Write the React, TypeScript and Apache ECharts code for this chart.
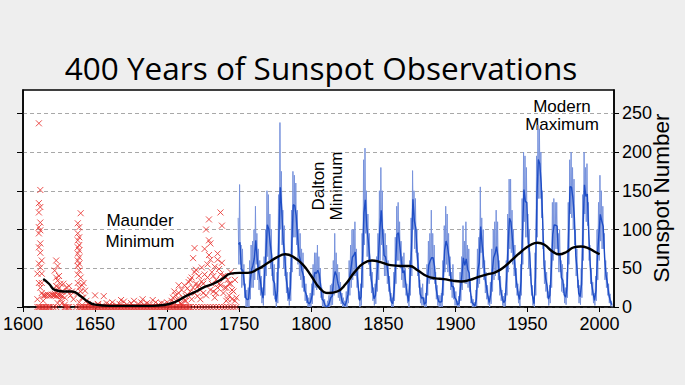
import React, { useEffect, useRef } from "react";
import * as echarts from "echarts";

// ---------- DATA ----------
const xTickYears = [1600, 1650, 1700, 1750, 1800, 1850, 1900, 1950, 2000];
const yTickValues = [0, 50, 100, 150, 200, 250];

// Monthly sunspot record 1749-2008, summarised per year (high month / low month / yearly mean)
const blueStartYear = 1749;
const blueMean = [
  80.9, 83.4, 47.7, 47.8, 30.7, 12.2, 9.6, 10.2, 32.4, 47.6,
  54.0, 62.9, 85.9, 61.2, 45.1, 36.4, 20.9, 11.4, 37.8, 69.8,
  106.1, 100.8, 81.6, 66.5, 34.8, 30.6, 7.0, 19.8, 92.5, 154.4,
  125.9, 84.8, 68.1, 38.5, 22.8, 10.2, 24.1, 82.9, 132.0, 130.9,
  118.1, 89.9, 66.6, 60.0, 46.9, 41.0, 21.3, 16.0, 6.4, 4.1,
  6.8, 14.5, 34.0, 45.0, 43.1, 47.5, 42.2, 28.1, 10.1, 8.1,
  2.5, 0.0, 1.4, 5.0, 12.2, 13.9, 35.4, 45.8, 41.1, 30.1,
  23.9, 15.6, 6.6, 4.0, 1.8, 8.5, 16.6, 36.3, 49.6, 64.2,
  67.0, 70.9, 47.8, 27.5, 8.5, 13.2, 56.9, 121.5, 138.3, 103.2,
  85.7, 64.6, 36.7, 24.2, 10.7, 15.0, 40.1, 61.5, 98.5, 124.7,
  96.3, 66.6, 64.5, 54.1, 39.0, 20.6, 6.7, 4.3, 22.7, 54.8,
  93.8, 95.8, 77.2, 59.1, 44.0, 47.0, 30.5, 16.3, 7.3, 37.6,
  74.0, 139.0, 111.2, 101.6, 66.2, 44.7, 17.0, 11.3, 12.4, 3.4,
  6.0, 32.3, 54.3, 59.7, 63.7, 63.5, 52.2, 25.4, 13.1, 6.8,
  6.3, 7.1, 35.6, 73.0, 85.1, 78.0, 64.0, 41.8, 26.2, 26.7,
  12.1, 9.5, 2.7, 5.0, 24.4, 42.0, 63.5, 53.8, 62.0, 48.5,
  43.9, 18.6, 5.7, 3.6, 1.4, 9.6, 47.4, 57.1, 103.9, 80.6,
  63.6, 37.6, 26.1, 14.2, 5.8, 16.7, 44.3, 63.9, 69.0, 77.8,
  64.9, 35.7, 21.2, 11.1, 5.7, 8.7, 36.1, 79.7, 114.4, 109.6,
  88.8, 67.8, 47.5, 30.6, 16.3, 9.6, 33.2, 92.6, 151.6, 136.3,
  134.7, 83.9, 69.4, 31.5, 13.9, 4.4, 38.0, 141.7, 190.2, 184.8,
  159.0, 112.3, 53.9, 37.6, 27.9, 10.2, 15.1, 47.0, 93.8, 105.9,
  105.5, 104.5, 66.6, 68.9, 38.0, 34.5, 15.5, 12.6, 27.5, 92.5,
  155.4, 154.6, 140.4, 115.9, 66.6, 45.9, 17.9, 13.4, 29.4, 100.2,
  157.6, 142.6, 145.7, 94.3, 54.6, 29.9, 17.5, 8.6, 21.5, 64.3,
  93.3, 119.6, 111.0, 104.0, 63.7, 40.4, 29.8, 15.2, 7.5, 2.9,
];
const blueHigh = [
  115, 158, 80, 75, 55, 30, 22, 25, 60, 80,
  85, 100, 130, 95, 75, 60, 40, 25, 65, 100,
  150, 145, 120, 100, 60, 55, 20, 45, 145, 238,
  175, 125, 105, 65, 45, 25, 45, 125, 175, 170,
  160, 125, 100, 95, 75, 70, 40, 30, 15, 12,
  18, 30, 55, 70, 70, 80, 65, 50, 25, 20,
  10, 2, 8, 15, 28, 30, 60, 95, 70, 55,
  45, 32, 18, 12, 8, 20, 35, 60, 80, 100,
  100, 110, 75, 50, 20, 30, 95, 190, 205, 150,
  120, 95, 60, 45, 25, 30, 65, 95, 150, 180,
  150, 100, 95, 80, 60, 40, 18, 12, 45, 90,
  130, 135, 110, 85, 65, 70, 50, 30, 18, 60,
  115, 176, 150, 140, 100, 70, 35, 25, 30, 12,
  18, 55, 85, 95, 125, 95, 80, 45, 28, 15,
  15, 18, 60, 105, 130, 120, 95, 65, 45, 55,
  25, 20, 8, 14, 45, 65, 105, 85, 110, 80,
  75, 35, 14, 10, 6, 22, 75, 90, 155, 115,
  100, 60, 45, 28, 14, 32, 75, 100, 110, 125,
  110, 60, 40, 22, 14, 18, 60, 120, 165, 165,
  125, 100, 80, 50, 30, 20, 55, 140, 200, 195,
  180, 120, 100, 50, 28, 12, 70, 195, 235, 230,
  200, 150, 85, 60, 45, 20, 28, 75, 135, 140,
  135, 135, 95, 100, 60, 55, 30, 25, 45, 135,
  190, 200, 180, 165, 100, 75, 35, 28, 50, 145,
  200, 180, 185, 135, 80, 50, 32, 18, 40, 100,
  135, 170, 150, 130, 95, 60, 45, 30, 17, 8,
];
const blueLow = [
  55, 55, 25, 28, 12, 0, 0, 0, 10, 25,
  25, 35, 55, 35, 22, 15, 5, 2, 15, 40,
  65, 60, 50, 40, 15, 10, 0, 5, 50, 100,
  80, 50, 40, 18, 8, 2, 8, 45, 90, 90,
  80, 55, 40, 35, 25, 20, 8, 5, 0, 0,
  0, 4, 15, 25, 22, 25, 22, 12, 0, 0,
  0, 0, 0, 0, 2, 3, 15, 20, 20, 12,
  8, 4, 0, 0, 0, 0, 5, 15, 25, 35,
  40, 40, 25, 10, 0, 2, 25, 80, 95, 65,
  55, 40, 18, 8, 2, 4, 20, 35, 60, 80,
  60, 40, 40, 30, 20, 8, 0, 0, 8, 30,
  60, 60, 50, 35, 25, 25, 15, 5, 0, 15,
  40, 100, 75, 70, 40, 25, 5, 2, 2, 0,
  0, 15, 30, 35, 35, 35, 30, 10, 2, 0,
  0, 0, 15, 45, 55, 45, 40, 22, 12, 10,
  2, 2, 0, 0, 8, 22, 35, 30, 30, 25,
  20, 5, 0, 0, 0, 1, 25, 30, 70, 50,
  35, 18, 10, 3, 0, 4, 20, 35, 40, 45,
  35, 15, 8, 2, 0, 1, 15, 45, 75, 70,
  55, 40, 25, 15, 5, 1, 15, 55, 110, 90,
  90, 50, 40, 15, 2, 0, 15, 90, 140, 140,
  115, 75, 30, 20, 12, 2, 5, 25, 60, 70,
  75, 75, 45, 45, 20, 18, 5, 3, 12, 55,
  120, 115, 100, 80, 40, 25, 5, 3, 12, 60,
  120, 110, 105, 60, 30, 15, 5, 2, 8, 35,
  60, 85, 75, 75, 35, 25, 15, 5, 1, 0,
];

// Early telescopic observations (red crosses): [year, sunspot number]
const redObs: [number, number][] = [
  [1611, 237], [1612, 151], [1611, 134], [1612, 129], [1611, 122], [1612, 109], [1611, 103], [1612, 99],
  [1611, 95], [1612, 82], [1611, 77], [1612, 70], [1613, 60], [1611, 56], [1612, 51], [1613, 43],
  [1610, 43], [1611, 31], [1613, 31], [1612, 25], [1613, 18], [1610, 10], [1614, 8], [1612, 0], [1613, 0],
  [1614, 15], [1615, 15], [1616, 15], [1617, 16], [1618, 15], [1619, 15], [1620, 16], [1621, 15], [1622, 15],
  [1623, 14], [1624, 16], [1625, 15], [1626, 15], [1627, 14], [1610, 0], [1611, 0], [1614, 0], [1615, 0],
  [1616, 0], [1617, 0], [1618, 0], [1619, 0], [1621, 0], [1623, 0], [1629, 0], [1630, 0], [1631, 0], [1632, 0],
  [1623, 60], [1624, 53], [1622, 47], [1625, 40], [1623, 38], [1624, 34], [1626, 30], [1623, 27], [1625, 25],
  [1624, 22], [1627, 20], [1622, 17], [1626, 10], [1624, 5], [1628, 30], [1630, 25], [1632, 27], [1631, 20],
  [1629, 12], [1633, 15], [1635, 10], [1634, 20], [1627, 5], [1629, 3],
  [1640, 121], [1638, 108], [1639, 103], [1638, 95], [1639, 90], [1638, 86], [1639, 80], [1638, 77],
  [1639, 73], [1638, 69], [1639, 64], [1638, 60], [1639, 56], [1638, 53], [1639, 47], [1638, 42], [1640, 38],
  [1638, 31], [1641, 28], [1639, 25], [1640, 20], [1638, 17], [1641, 12], [1639, 6], [1642, 31], [1643, 21],
  [1642, 12], [1644, 8], [1645, 4], [1650, 15], [1647, 2], [1652, 3], [1637, 0], [1639, 0], [1640, 0],
  [1641, 0], [1642, 0], [1643, 0], [1644, 0],
  [1645, 0], [1646, 0], [1647, 0], [1648, 0], [1649, 0], [1650, 0], [1651, 0], [1652, 0], [1653, 0],
  [1654, 0], [1655, 0], [1656, 0], [1657, 0], [1658, 0], [1659, 0], [1660, 0], [1661, 0], [1662, 0],
  [1663, 0], [1664, 0], [1665, 0], [1666, 0], [1667, 0], [1668, 0], [1669, 0], [1670, 0], [1671, 0],
  [1672, 0], [1673, 0], [1674, 0], [1675, 0], [1676, 0], [1677, 0], [1678, 0], [1679, 0], [1680, 0],
  [1681, 0], [1682, 0], [1683, 0], [1684, 0], [1685, 0], [1686, 0], [1687, 0], [1688, 0], [1689, 0],
  [1690, 0], [1691, 0], [1692, 0], [1693, 0], [1694, 0], [1695, 0], [1696, 0], [1697, 0], [1698, 0],
  [1699, 0], [1700, 0], [1701, 0], [1702, 0], [1703, 0], [1704, 0], [1705, 0], [1706, 0], [1707, 0],
  [1708, 0], [1709, 0], [1710, 0], [1711, 0], [1712, 0], [1713, 0], [1714, 0], [1715, 0], [1716, 0],
  [1652, 4], [1655, 2], [1658, 5], [1660, 3], [1662, 6], [1665, 2], [1667, 4], [1668, 9], [1670, 7],
  [1672, 3], [1675, 5], [1677, 8], [1680, 4], [1682, 6], [1683, 10], [1684, 3], [1686, 5], [1688, 3],
  [1690, 9], [1692, 6], [1694, 3], [1696, 5], [1698, 4], [1700, 6], [1656, 14],
  [1702, 3], [1703, 8], [1704, 12], [1705, 6], [1706, 15], [1707, 10], [1708, 18], [1709, 5], [1710, 22],
  [1711, 12], [1712, 28], [1713, 8], [1714, 16], [1715, 32], [1716, 20], [1717, 38], [1718, 63], [1719, 45],
  [1719, 76], [1718, 25], [1720, 30], [1721, 14], [1722, 40], [1723, 22], [1724, 51], [1724, 33], [1725, 18],
  [1726, 75], [1727, 100], [1728, 38], [1729, 113], [1729, 86], [1729, 67], [1730, 82], [1730, 61], [1731, 45],
  [1731, 30], [1732, 20], [1733, 52], [1734, 35], [1735, 69], [1735, 61], [1736, 49], [1737, 122], [1737, 28],
  [1738, 105], [1738, 57], [1739, 40], [1740, 40], [1741, 25], [1742, 35], [1743, 15], [1744, 30], [1745, 10],
  [1746, 20], [1747, 8], [1748, 12], [1705, 20], [1708, 28], [1712, 8], [1714, 24], [1716, 35], [1720, 48],
  [1722, 28], [1726, 42], [1728, 55], [1732, 40], [1734, 18], [1736, 30], [1740, 25], [1742, 10], [1744, 45],
  [1710, 4], [1713, 14], [1717, 10], [1719, 18], [1721, 26], [1723, 10], [1725, 30], [1727, 15], [1730, 22],
  [1733, 12], [1735, 25], [1737, 42], [1739, 18], [1741, 8], [1743, 30], [1745, 22], [1747, 35],
  [1718, 0], [1720, 0], [1722, 0], [1724, 0], [1726, 0], [1728, 0], [1730, 0], [1732, 0], [1734, 0],
  [1736, 0], [1738, 0], [1740, 0], [1742, 0], [1744, 0], [1746, 0], [1748, 0],
];

// Long-term smoothed average (black curve): [year, value]
const smoothYears = [
  1614, 1618, 1622, 1628, 1634, 1640, 1645, 1650, 1660, 1670, 1680, 1690, 1698, 1705, 1712, 1720, 1726,
  1732, 1738, 1744, 1750, 1756, 1763, 1770, 1776, 1782, 1788, 1794, 1800, 1806, 1812, 1818, 1824, 1830,
  1836, 1842, 1848, 1855, 1862, 1868, 1874, 1880, 1886, 1892, 1898, 1904, 1910, 1916, 1922, 1928, 1934,
  1940, 1946, 1952, 1957, 1962, 1967, 1972, 1977, 1982, 1987, 1992, 1997, 2000,
];
const smoothValues = [
  36, 30, 22, 20, 20, 14, 7, 3, 1.5, 1.5, 1.5, 1.5, 2.5, 6, 13, 20, 26,
  30, 36, 43, 44, 44, 49, 57, 64, 68, 64, 55, 40, 24, 18, 20, 30, 45,
  56, 60, 58, 54, 53, 53, 47, 40, 37, 36, 34, 33, 35, 39, 42, 45, 52,
  62, 72, 80, 83, 80, 72, 68, 71, 77, 78, 76, 71, 68,
];

// ---------- CHART ----------
export default function App() {
  const ref = useRef<HTMLDivElement>(null);

  useEffect(() => {
    if (!ref.current) return;
    const chart = echarts.init(ref.current, undefined, { renderer: "svg" });

    const zig: [number, number][] = [];
    const mean: [number, number][] = [];
    blueHigh.forEach((h, i) => {
      const yr = blueStartYear + i;
      zig.push([yr + 0.25, h]);
      zig.push([yr + 0.75, blueLow[i]]);
      mean.push([yr + 0.5, blueMean[i]]);
    });
    const smooth = smoothYears.map((y, i) => [y, smoothValues[i]]);

    const sans = "Liberation Sans, Arial, sans-serif";
    const axisFont = { fontFamily: sans, fontSize: 18, color: "#000" };

    chart.setOption({
      animation: false,
      backgroundColor: "#eeeeee",
      grid: {
        left: 23,
        right: 71,
        top: 90,
        bottom: 78,
        show: true,
        backgroundColor: "#ffffff",
        borderColor: "#000",
        borderWidth: 1.5,
      },
      xAxis: {
        type: "value",
        min: 1600,
        max: 2010,
        axisLine: { show: true, lineStyle: { color: "#000", width: 1.5 } },
        axisTick: { show: true, inside: false, length: 5, customValues: xTickYears, lineStyle: { color: "#000" } },
        axisLabel: { ...axisFont, margin: 8, customValues: xTickYears, formatter: (v: number) => String(v) },
        splitLine: { show: false },
      },
      yAxis: [
        {
          type: "value",
          position: "right",
          min: 0,
          max: 280,
          axisLine: { show: true, lineStyle: { color: "#000", width: 1.5 } },
          axisTick: { show: true, inside: false, length: 5, customValues: yTickValues, lineStyle: { color: "#000" } },
          axisLabel: { ...axisFont, margin: 8, customValues: yTickValues },
          splitLine: { show: true, lineStyle: { color: "#a8a8a8", type: [4, 3], width: 1 } },
        },
        {
          type: "value",
          position: "left",
          min: 0,
          max: 280,
          axisLine: { show: true, lineStyle: { color: "#000", width: 1.5 } },
          axisTick: { show: true, inside: false, length: 6, customValues: yTickValues, lineStyle: { color: "#000" } },
          axisLabel: { show: false },
          splitLine: { show: false },
        },
      ],
      series: [
        {
          type: "line",
          data: zig,
          symbol: "none",
          lineStyle: { color: "#7893dc", width: 1 },
          z: 2,
        },
        {
          type: "line",
          data: mean,
          symbol: "none",
          lineStyle: { color: "#1f4ec6", width: 1.4 },
          z: 3,
        },
        {
          type: "scatter",
          data: redObs,
          symbol: "path://M0,0L10,10M10,0L0,10",
          symbolSize: 6,
          itemStyle: { color: "rgba(0,0,0,0)", borderColor: "#e8332f", borderWidth: 1, opacity: 0.85 },
          z: 4,
        },
        {
          type: "line",
          data: smooth,
          symbol: "none",
          smooth: 0.5,
          lineStyle: { color: "#000", width: 2.4 },
          z: 5,
        },
      ],
      graphic: [
        {
          type: "text",
          x: 321,
          y: 67,
          style: {
            text: "400 Years of Sunspot Observations",
            fontFamily: "Open Sans, sans-serif",
            fontSize: 31.5,
            fill: "#000",
            align: "center",
            verticalAlign: "middle",
          },
        },
        {
          type: "text",
          x: 661,
          y: 198,
          rotation: Math.PI / 2,
          style: {
            text: "Sunspot Number",
            fontFamily: sans,
            fontSize: 22.5,
            fill: "#000",
            align: "center",
            verticalAlign: "middle",
          },
        },
        {
          type: "text",
          x: 140,
          y: 231,
          style: {
            text: "Maunder\nMinimum",
            fontFamily: sans,
            fontSize: 17,
            lineHeight: 21,
            fill: "#000",
            align: "center",
            verticalAlign: "middle",
          },
        },
        {
          type: "text",
          x: 327,
          y: 186,
          rotation: Math.PI / 2,
          style: {
            text: "Dalton\nMinimum",
            fontFamily: sans,
            fontSize: 17,
            lineHeight: 18,
            fill: "#000",
            align: "center",
            verticalAlign: "middle",
          },
        },
        {
          type: "text",
          x: 562,
          y: 115,
          style: {
            text: "Modern\nMaximum",
            fontFamily: sans,
            fontSize: 17,
            lineHeight: 18,
            fill: "#000",
            align: "center",
            verticalAlign: "middle",
          },
        },
      ],
    });

    return () => chart.dispose();
  }, []);

  return <div ref={ref} style={{ width: 685, height: 385, position: "absolute", left: 0, top: 0 }} />;
}
